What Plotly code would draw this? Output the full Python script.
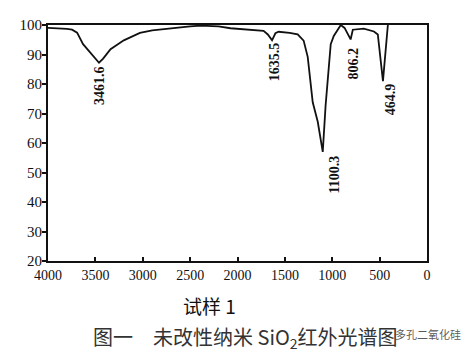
import plotly.graph_objects as go

# Data
wavenumber = [4000, 3900, 3800, 3746, 3693, 3630, 3534, 3461.6, 3418, 3340, 3200,
              3030, 2900, 2740, 2500, 2390, 2200, 2074, 1900, 1725, 1680, 1635.5,
              1600, 1566, 1450, 1365, 1302, 1259, 1206, 1153, 1100.3, 1070, 1016,
              984, 910, 870, 806.2, 783, 667, 560, 519, 464.9, 413]
transmittance = [99.0, 98.9, 98.7, 98.4, 97.4, 93.5, 89.8, 87.2, 88.6, 91.8, 94.8,
                 97.3, 98.2, 98.8, 99.5, 99.8, 99.5, 98.9, 98.5, 98.0, 96.8, 94.8,
                 97.2, 97.7, 97.3, 96.8, 94.7, 89.2, 73.8, 67.2, 57.0, 72.8, 93.5,
                 96.3, 100.0, 99.0, 95.1, 98.4, 98.8, 97.8, 96.8, 81.0, 100.0]

peak_labels = ["3461.6", "1635.5", "1100.3", "806.2", "464.9"]
peak_label_x = [3461.6, 1610, 975, 773, 392]
peak_label_y = [79.3, 87.5, 49.2, 86.9, 74.8]

x_ticks = [4000, 3500, 3000, 2500, 2000, 1500, 1000, 500, 0]
y_ticks = [20, 30, 40, 50, 60, 70, 80, 90, 100]

sample_title = "试样 1"
caption = "图一　未改性纳米 SiO<sub>2</sub>红外光谱图"
watermark = "多孔二氧化硅"

serif = "Liberation Serif, Times New Roman, serif"
cjk = "Noto Sans CJK SC, sans-serif"

# page body has an 8px margin; work in figure coordinates
OFF = 8
W, H = 476 - 2 * OFF, 361 - 2 * OFF
PL, PR, PT, PB = 48 - OFF, 427 - OFF, 17 - OFF, 261 - OFF
pw, ph = PR - PL, PB - PT


def px(xp):
    return (xp - OFF - PL) / pw


def py(yp):
    return (PB - (yp - OFF)) / ph


fig = go.Figure()
fig.add_trace(go.Scatter(x=wavenumber, y=transmittance, mode="lines",
                         line=dict(color="#111", width=1.8), hoverinfo="skip",
                         showlegend=False))

for t, xx, yy in zip(peak_labels, peak_label_x, peak_label_y):
    fig.add_annotation(x=xx, y=yy, text="<b>%s</b>" % t, textangle=-90,
                       showarrow=False, xanchor="center", yanchor="middle",
                       font=dict(family=serif, size=14, color="#111"))

fig.add_annotation(xref="paper", yref="paper", x=px(209), y=py(307),
                   text=sample_title, showarrow=False, xanchor="center", yanchor="middle",
                   font=dict(family=cjk, size=19, color="#111"))
fig.add_annotation(xref="paper", yref="paper", x=px(245), y=py(340),
                   text=caption, showarrow=False, xanchor="center", yanchor="middle",
                   font=dict(family=cjk, size=20, color="#333"))
fig.add_annotation(xref="paper", yref="paper", x=px(428), y=py(336),
                   text=watermark, showarrow=False, xanchor="center", yanchor="middle",
                   font=dict(family=cjk, size=11, color="rgba(60,60,60,0.85)"))

fig.update_xaxes(range=[4000, 0], tickvals=x_ticks, ticktext=[str(v) for v in x_ticks],
                 ticks="inside", ticklen=4, tickwidth=1.5, tickcolor="#111",
                 showline=True, linecolor="#111", linewidth=2, mirror=True,
                 showgrid=False, zeroline=False,
                 tickfont=dict(family=serif, size=14, color="#111"))
fig.update_yaxes(range=[20, 100], tickvals=y_ticks, ticktext=[str(v) for v in y_ticks],
                 ticks="outside", ticklen=4, tickwidth=1.5, tickcolor="#111",
                 ticklabelstandoff=-3,
                 showline=True, linecolor="#111", linewidth=2, mirror=True,
                 showgrid=False, zeroline=False,
                 tickfont=dict(family=serif, size=15, color="#111"))

fig.update_layout(width=W, height=H, margin=dict(l=PL, r=W - PR, t=PT, b=H - PB),
                  plot_bgcolor="white", paper_bgcolor="white")

fig.write_html("out.html")
